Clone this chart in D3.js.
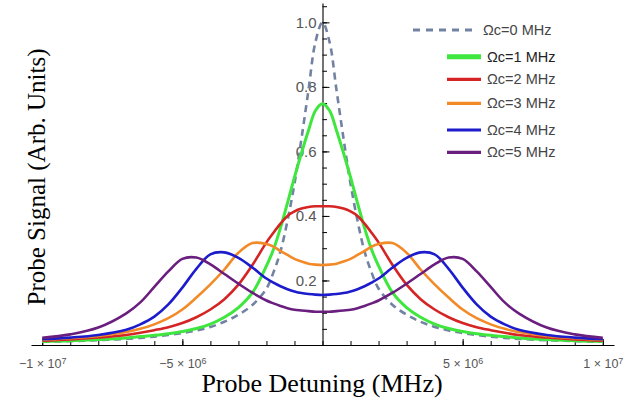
<!DOCTYPE html>
<html>
<head>
<meta charset="utf-8">
<script src="https://cdn.jsdelivr.net/npm/d3@7"></script>
<style>
  body { margin: 0; background: #fff; }
  svg { display: block; }
</style>
</head>
<body>
<script>
// detuning in Hz
const detuning = [-10e6, -9e6, -8e6, -7e6, -6.5e6, -6e6, -5.5e6, -5e6, -4.5e6, -4e6, -3.5e6, -3e6, -2.5e6, -2e6, -1.75e6, -1.5e6, -1.25e6, -1e6, -0.75e6, -0.5e6, -0.25e6,
  0, 0.25e6, 0.5e6, 0.75e6, 1e6, 1.25e6, 1.5e6, 1.75e6, 2e6, 2.5e6, 3e6, 3.5e6, 4e6, 4.5e6, 5e6, 5.5e6, 6e6, 6.5e6, 7e6, 8e6, 9e6, 10e6];

const omega0 = [0.010, 0.012, 0.015, 0.019, 0.022, 0.026, 0.031, 0.037, 0.045, 0.056, 0.072, 0.094, 0.124, 0.175, 0.225, 0.29, 0.385, 0.50, 0.64, 0.79, 0.94,
  1.0, 0.94, 0.79, 0.64, 0.50, 0.385, 0.29, 0.225, 0.175, 0.124, 0.094, 0.072, 0.056, 0.045, 0.037, 0.031, 0.026, 0.022, 0.019, 0.015, 0.012, 0.010];
const omega1 = [0.011, 0.013, 0.017, 0.022, 0.026, 0.030, 0.035, 0.042, 0.051, 0.065, 0.086, 0.116, 0.162, 0.245, 0.296, 0.363, 0.44, 0.52, 0.595, 0.665, 0.727,
  0.748, 0.727, 0.665, 0.595, 0.52, 0.44, 0.363, 0.296, 0.245, 0.162, 0.116, 0.086, 0.065, 0.051, 0.042, 0.035, 0.030, 0.026, 0.022, 0.017, 0.013, 0.011];
const omega2 = [0.013, 0.017, 0.023, 0.031, 0.038, 0.046, 0.055, 0.068, 0.086, 0.110, 0.142, 0.187, 0.248, 0.318, 0.348, 0.376, 0.400, 0.414, 0.423, 0.428, 0.430,
  0.430, 0.430, 0.428, 0.423, 0.414, 0.400, 0.376, 0.348, 0.318, 0.248, 0.187, 0.142, 0.110, 0.086, 0.068, 0.055, 0.046, 0.038, 0.031, 0.023, 0.017, 0.013];
const omega3 = [0.016, 0.021, 0.028, 0.040, 0.050, 0.064, 0.083, 0.110, 0.147, 0.188, 0.234, 0.286, 0.316, 0.313, 0.305, 0.291, 0.279, 0.267, 0.259, 0.252, 0.249,
  0.248, 0.249, 0.252, 0.259, 0.267, 0.279, 0.291, 0.305, 0.313, 0.316, 0.286, 0.234, 0.188, 0.147, 0.110, 0.083, 0.064, 0.050, 0.040, 0.028, 0.021, 0.016];
const omega4 = [0.018, 0.023, 0.031, 0.047, 0.064, 0.088, 0.126, 0.178, 0.236, 0.281, 0.287, 0.270, 0.240, 0.206, 0.193, 0.182, 0.173, 0.166, 0.161, 0.158, 0.156,
  0.155, 0.156, 0.158, 0.161, 0.166, 0.173, 0.182, 0.193, 0.206, 0.240, 0.270, 0.287, 0.281, 0.236, 0.178, 0.126, 0.088, 0.064, 0.047, 0.031, 0.023, 0.018];
const omega5 = [0.022, 0.033, 0.054, 0.098, 0.132, 0.180, 0.228, 0.267, 0.271, 0.250, 0.220, 0.190, 0.162, 0.138, 0.129, 0.121, 0.114, 0.109, 0.107, 0.105, 0.103,
  0.103, 0.103, 0.105, 0.107, 0.109, 0.114, 0.121, 0.129, 0.138, 0.162, 0.190, 0.220, 0.250, 0.271, 0.267, 0.228, 0.180, 0.132, 0.098, 0.054, 0.033, 0.022];

const seriesNames = ["Ωc=0 MHz", "Ωc=1 MHz", "Ωc=2 MHz", "Ωc=3 MHz", "Ωc=4 MHz", "Ωc=5 MHz"];
const seriesValues = [omega0, omega1, omega2, omega3, omega4, omega5];
const seriesColors = ["#7282a3", "#3ee63e", "#d42424", "#f28a28", "#1c1ccc", "#6a1e7e"];

const xLabelTicks = [-1e7, -5e6, 5e6, 1e7];
const xLabelText = [["−1 × 10", "7"], ["−5 × 10", "6"], ["5 × 10", "6"], ["1 × 10", "7"]];
const yLabelTicks = [0.2, 0.4, 0.6, 0.8, 1.0];

var width = 643, height = 410;

var svg = d3.select("body").append("svg")
    .attr("width", width)
    .attr("height", height)
    .style("background", "#fff");

var xScale = d3.scaleLinear().domain([-1.04e7, 1.04e7]).range([31, 614]);
var yScale = d3.scaleLinear().domain([0, 1.06]).range([345, 3]);

// x axis: minor ticks
svg.append("g")
    .attr("transform", "translate(0," + yScale(0) + ")")
    .call(d3.axisBottom(xScale).tickValues(d3.range(-10e6, 10.5e6, 1e6)).tickSizeInner(-4).tickSizeOuter(0).tickFormat(""))
    .call(g => g.select(".domain").remove());

// x axis: major ticks + line
var xAxis = svg.append("g")
    .attr("transform", "translate(0," + yScale(0) + ")")
    .call(d3.axisBottom(xScale).tickValues(xLabelTicks).tickSizeInner(-6).tickSizeOuter(0).tickPadding(14).tickFormat(""));

xAxis.selectAll(".tick text").each(function (d, i) {
    var t = d3.select(this)
        .attr("fill", "#555")
        .style("font-family", "'Liberation Sans', Arial, sans-serif")
        .style("font-size", "12.5px");
    t.append("tspan").text(xLabelText[i][0]);
    t.append("tspan").attr("dy", "-0.45em").style("font-size", "9px").text(xLabelText[i][1]);
});

// y axis: minor ticks
svg.append("g")
    .attr("transform", "translate(" + xScale(0) + ",0)")
    .call(d3.axisLeft(yScale).tickValues(d3.range(0.05, 1.06, 0.05)).tickSizeInner(-4.5).tickSizeOuter(0).tickFormat(""))
    .call(g => g.select(".domain").remove());

// y axis: major ticks + labels
var yAxis = svg.append("g")
    .attr("transform", "translate(" + xScale(0) + ",0)")
    .call(d3.axisLeft(yScale).tickValues(yLabelTicks).tickSizeInner(-7).tickSizeOuter(0).tickPadding(6).tickFormat(d3.format(".1f")));

yAxis.selectAll(".tick text")
    .attr("fill", "#555")
    .style("font-family", "'Liberation Sans', Arial, sans-serif")
    .style("font-size", "15px");

svg.selectAll(".domain").attr("stroke", "#000").attr("stroke-width", 1.1);
svg.selectAll(".tick line").attr("stroke", "#000");

// curves
var line = d3.line()
    .x((d, i) => xScale(detuning[i]))
    .y(d => yScale(d))
    .curve(d3.curveCatmullRom);

svg.append("g")
    .selectAll("path")
    .data(seriesValues)
    .enter()
    .append("path")
    .attr("d", d => line(d))
    .attr("fill", "none")
    .attr("stroke", (d, i) => seriesColors[i])
    .attr("stroke-width", (d, i) => i == 1 ? 3 : 2.6)
    .attr("stroke-dasharray", (d, i) => i == 0 ? "7,5" : null);

// legend
var legendY = [30, 56.7, 79.3, 103.3, 130, 152.3];
var legend = svg.append("g");
seriesNames.forEach(function (name, i) {
    legend.append("line")
        .attr("x1", i == 0 ? 413 : 447)
        .attr("x2", i == 0 ? 474 : 481)
        .attr("y1", legendY[i])
        .attr("y2", legendY[i])
        .attr("stroke", seriesColors[i])
        .attr("stroke-width", i == 0 ? 3 : (i == 1 ? 5 : 3.2))
        .attr("stroke-dasharray", i == 0 ? "7,6" : null);
    legend.append("text")
        .attr("x", i == 0 ? 483 : 487)
        .attr("y", legendY[i])
        .attr("dy", "0.35em")
        .attr("fill", i == 1 ? "#222" : "#444")
        .style("font-family", "'Liberation Sans', Arial, sans-serif")
        .style("font-size", "14.5px")
        .text(name);
});

// axis titles
svg.append("text")
    .attr("x", 322)
    .attr("y", 392)
    .attr("text-anchor", "middle")
    .style("font-family", "'Liberation Serif', 'Times New Roman', serif")
    .style("font-size", "26px")
    .text("Probe Detuning (MHz)");

svg.append("text")
    .attr("transform", "translate(45,177) rotate(-90)")
    .attr("text-anchor", "middle")
    .style("font-family", "'Liberation Serif', 'Times New Roman', serif")
    .style("font-size", "25px")
    .text("Probe Signal (Arb. Units)");
</script>
</body>
</html>
